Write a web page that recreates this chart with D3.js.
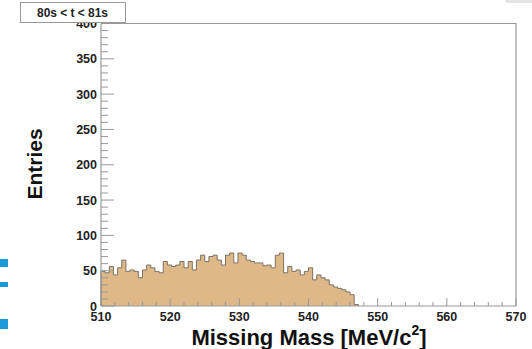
<!DOCTYPE html>
<html>
<head>
<meta charset="utf-8">
<script src="https://cdn.jsdelivr.net/npm/d3@7"></script>
<style>
  body { margin: 0; background: #fff; }
  svg { display: block; font-family: "Liberation Sans", Arial, sans-serif; }
  .tick-label { font-size: 12.5px; font-weight: bold; fill: #222; }
  .axis-title { font-weight: bold; fill: #111; }
</style>
</head>
<body>
<svg id="chart" width="532" height="349"></svg>
<script>
  // histogram: Missing Mass, 0.6 MeV bins starting at 510
  const binStart = 510;
  const binWidth = 0.6;
  const counts = [
    49, 47, 56, 44, 54, 65, 49, 51, 49, 40, 51, 58, 54, 49, 47, 63,
    58, 56, 58, 63, 54, 63, 51, 65, 72, 63, 70, 72, 65, 58, 72, 75,
    61, 75, 72, 65, 63, 61, 61, 57, 58, 54, 72, 75, 47, 56, 49, 51,
    44, 49, 54, 37, 44, 40, 37, 30, 27, 25, 23, 20, 16, 2
  ];

  const xDomain = [510, 570];
  const yDomain = [0, 400];
  const xMajor = [510, 520, 530, 540, 550, 560, 570];
  const yMajor = [0, 50, 100, 150, 200, 250, 300, 350, 400];
  const title = "80s < t < 81s";
  const xTitle = "Missing Mass [MeV/c";
  const yTitle = "Entries";

  const svg = d3.select("#chart");
  const x = d3.scaleLinear().domain(xDomain).range([101, 516]);
  const y = d3.scaleLinear().domain(yDomain).range([306, 23.5]);

  // frame (top and right)
  svg.append("path")
    .attr("d", `M${x(510)},${y(400)}H${x(570)}V${y(0)}`)
    .attr("fill", "none")
    .attr("stroke", "#999")
    .attr("stroke-width", 1.2);

  // histogram
  const pts = [[binStart, 0]];
  counts.forEach((c, i) => {
    pts.push([binStart + i * binWidth, c]);
    pts.push([binStart + (i + 1) * binWidth, c]);
  });
  pts.push([binStart + counts.length * binWidth, 0]);

  const line = d3.line().x((d) => x(d[0])).y((d) => y(d[1]));
  svg.append("path")
    .datum(pts)
    .attr("d", line)
    .attr("fill", "#deb887")
    .attr("stroke", "#7a7266")
    .attr("stroke-width", 1);

  // y axis
  svg.append("line")
    .attr("x1", x(510)).attr("x2", x(510))
    .attr("y1", y(0)).attr("y2", y(400))
    .attr("stroke", "#999").attr("stroke-width", 1.2);
  const yMinor = d3.range(0, 401, 10).filter((v) => v % 50 !== 0);
  svg.selectAll(".ymin").data(yMinor).enter().append("line")
    .attr("x1", x(510)).attr("x2", x(510) + 7)
    .attr("y1", (d) => y(d)).attr("y2", (d) => y(d))
    .attr("stroke", "#999");
  svg.selectAll(".ymaj").data(yMajor).enter().append("line")
    .attr("x1", x(510)).attr("x2", x(510) + 13)
    .attr("y1", (d) => y(d)).attr("y2", (d) => y(d))
    .attr("stroke", "#999");
  svg.selectAll(".ylab").data(yMajor).enter().append("text")
    .attr("class", "tick-label")
    .attr("x", x(510) - 4)
    .attr("y", (d) => y(d) + 4.5)
    .attr("text-anchor", "end")
    .text((d) => d);

  // x axis
  svg.append("line")
    .attr("x1", x(510)).attr("x2", x(570))
    .attr("y1", y(0)).attr("y2", y(0))
    .attr("stroke", "#999").attr("stroke-width", 1.2);
  const xMinor = d3.range(510, 570.1, 2).filter((v) => v % 10 !== 0);
  svg.selectAll(".xmin").data(xMinor).enter().append("line")
    .attr("x1", (d) => x(d)).attr("x2", (d) => x(d))
    .attr("y1", y(0)).attr("y2", y(0) - 4)
    .attr("stroke", "#999");
  svg.selectAll(".xmaj").data(xMajor).enter().append("line")
    .attr("x1", (d) => x(d)).attr("x2", (d) => x(d))
    .attr("y1", y(0)).attr("y2", y(0) - 8)
    .attr("stroke", "#999");
  svg.selectAll(".xlab").data(xMajor).enter().append("text")
    .attr("class", "tick-label")
    .attr("x", (d) => x(d))
    .attr("y", 321)
    .attr("text-anchor", "middle")
    .text((d) => d);

  // axis titles
  const xt = svg.append("text")
    .attr("class", "axis-title")
    .attr("x", 309).attr("y", 345)
    .attr("text-anchor", "middle")
    .style("font-size", "22px");
  xt.append("tspan").text(xTitle);
  xt.append("tspan").attr("dy", -10).style("font-size", "14px").text("2");
  xt.append("tspan").attr("dy", 10).text("]");

  svg.append("text")
    .attr("class", "axis-title")
    .attr("transform", "translate(42,164) rotate(-90)")
    .attr("text-anchor", "middle")
    .style("font-size", "21px")
    .text(yTitle);

  // title box
  svg.append("rect")
    .attr("x", 20.5).attr("y", 2.5).attr("width", 105).attr("height", 20)
    .attr("fill", "#fff").attr("stroke", "#999");
  svg.append("text")
    .attr("x", 37).attr("y", 17)
    .attr("textLength", 71).attr("lengthAdjust", "spacingAndGlyphs")
    .style("font-size", "12px").style("font-weight", "bold").style("fill", "#222")
    .text(title);

  // slide decorations at the left edge
  const marks = [[259, 8], [282, 5], [319, 10]];
  svg.selectAll(".deco").data(marks).enter().append("rect")
    .attr("x", 0).attr("y", (d) => d[0])
    .attr("width", 8).attr("height", (d) => d[1])
    .attr("fill", "#1a9ad6");
  svg.append("rect")
    .attr("x", 505).attr("y", -4).attr("width", 30).attr("height", 7).attr("rx", 3)
    .attr("fill", "#e4e4e4");
</script>
</body>
</html>
